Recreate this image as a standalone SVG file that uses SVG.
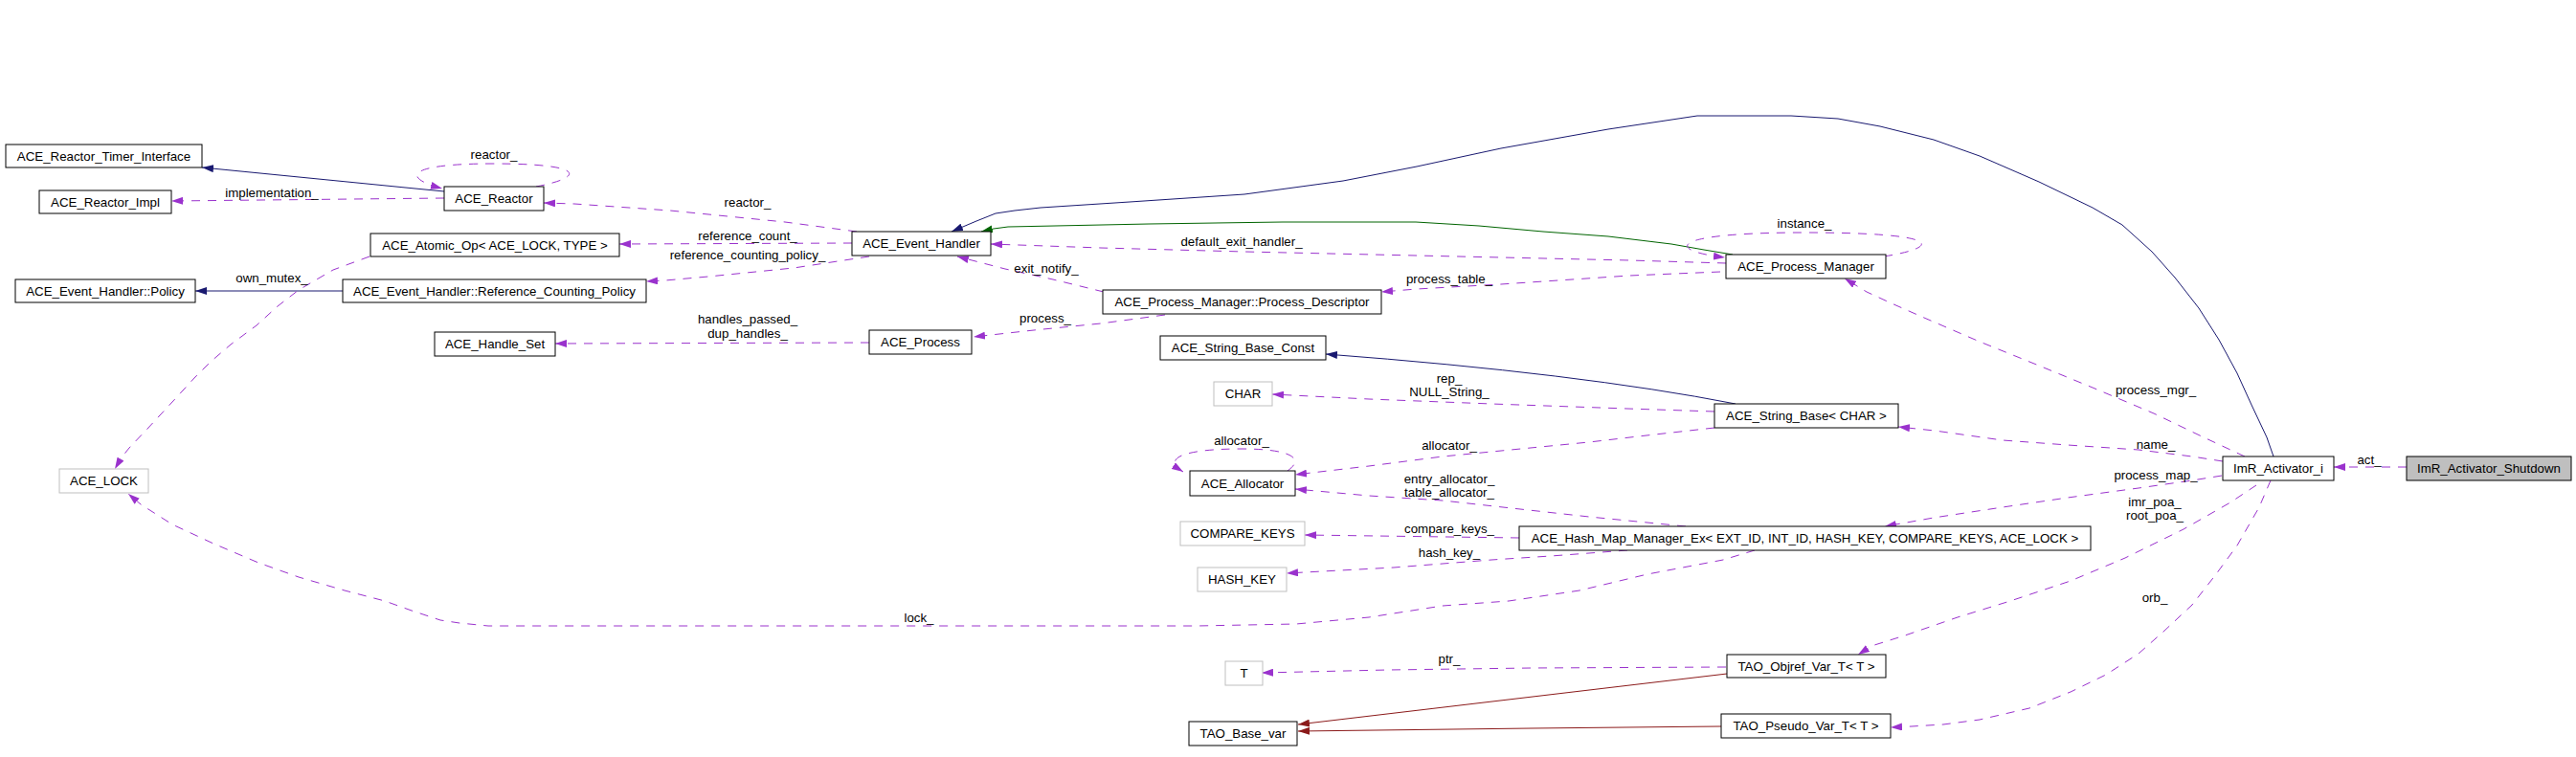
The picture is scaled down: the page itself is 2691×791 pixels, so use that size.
<svg xmlns="http://www.w3.org/2000/svg" width="2691" height="791" viewBox="0 0 2691 791">
<style>
text{font-family:"Liberation Sans",Arial,sans-serif;font-size:13.3px;fill:#000}
.n rect{fill:#fff;stroke:#000;stroke-width:1}
.g rect{fill:#fff;stroke:#bfbfbf;stroke-width:1}
.n text,.g text{text-anchor:middle}
.lbl text{text-anchor:middle}
.e path{fill:none;stroke-width:1;stroke-linejoin:round}
.u{stroke:#9a32cd;stroke-dasharray:9,8;marker-end:url(#ap)}
.i{stroke:#191970;marker-end:url(#an)}
.gr{stroke:#006400;marker-end:url(#ag)}
.r{stroke:#8b1a1a;marker-end:url(#ar)}
</style>
<defs>
<marker id="ap" markerWidth="12" markerHeight="8" refX="12" refY="4" orient="auto" markerUnits="userSpaceOnUse"><path d="M0,0 L12,4 L0,8 z" fill="#9a32cd"/></marker>
<marker id="an" markerWidth="12" markerHeight="8" refX="12" refY="4" orient="auto" markerUnits="userSpaceOnUse"><path d="M0,0 L12,4 L0,8 z" fill="#191970"/></marker>
<marker id="ag" markerWidth="12" markerHeight="8" refX="12" refY="4" orient="auto" markerUnits="userSpaceOnUse"><path d="M0,0 L12,4 L0,8 z" fill="#006400"/></marker>
<marker id="ar" markerWidth="12" markerHeight="8" refX="12" refY="4" orient="auto" markerUnits="userSpaceOnUse"><path d="M0,0 L12,4 L0,8 z" fill="#8b1a1a"/></marker>
</defs>
<rect width="2691" height="791" fill="#fff"/>
<g id="edges" class="e">
<path class="i" d="M2375,477 L2368,457 L2352,423 L2337,390 L2318,355 L2297,322 L2272,290 L2248,263 L2217,235 L2186,217 L2130,190 L2068,163 L2020,146 L1964,132 L1920,124 L1871,121 L1773,121 L1680,135 L1568,155 L1480,174 L1403,189 L1300,203 L1180,211 L1087,217 L1060,220 L1040,223 L1020,231 L994,242"/>
<path class="gr" d="M1810,266 L1780,261 L1746,255 L1680,247 L1612,242 L1545,236 L1479,232 L1340,232 L1200,234 L1053,237 L1038,239 L1025,242"/>
<path class="i" d="M464,200 L211,175"/>
<path class="i" d="M358,304 L204,304"/>
<path class="i" d="M1813,422 Q1650,390 1385,370"/>
<path class="r" d="M1804,704 L1356,757"/>
<path class="r" d="M1798,759 L1600,761 L1356,764"/>
<path class="u" d="M2514,488 L2438,488"/>
<path class="u" d="M2345,477 L2300,456 L2250,432 L2186,405 L2125,380 L2068,357 L2010,332 L1976,317 L1950,305 L1927,291"/>
<path class="u" d="M2322,482 L2290,477 L2234,470 L2160,465 L2092,460 L2021,450 L1983,446"/>
<path class="u" d="M2321,497 L2290,502 L2234,510 L2160,520 L2092,530 L2020,541 L1969,550"/>
<path class="u" d="M2357,507 L2330,525 L2281,553 L2220,583 L2163,607 L2100,628 L2045,645 L1990,664 L1955,675 L1941,684"/>
<path class="u" d="M2372,502 L2360,530 L2337,570 L2315,600 L2290,632 L2260,660 L2234,683 L2200,705 L2163,723 L2120,740 L2068,752 L2030,757 L1997,759 L1975,760"/>
<path class="u" d="M895,242 L820,232 L700,220 L600,213 L568,212"/>
<path class="u" d="M560,195 C612,185 612,171 515,171 C422,171 420,186 462,197"/>
<path class="u" d="M464,207 L179,210"/>
<path class="u" d="M890,254 L647,255"/>
<path class="u" d="M908,268 L829,280 L740,289 L695,293 L675,294"/>
<path class="u" d="M1803,275 L1702,272 L1479,267 L1300,263 L1150,259 L1035,255"/>
<path class="u" d="M1153,305 L1100,292 L1050,281 L1000,268"/>
<path class="u" d="M1797,284 L1702,288 L1568,297 L1480,302 L1443,305"/>
<path class="u" d="M1217,329 L1150,338 L1080,345 L1017,352"/>
<path class="u" d="M908,358 L580,359"/>
<path class="u" d="M386,268 L348,282 L312,303 L290,320 L268,340 L241,360 L220,378 L203,395 L180,420 L154,448 L135,468 L127,478 L120,490"/>
<path class="u" d="M1968,268 C2030,258 2030,243 1885,243 C1740,243 1740,262 1802,269"/>
<path class="u" d="M1791,430 L1700,427 L1558,422 L1430,417 L1329,412"/>
<path class="u" d="M1791,447 L1720,455 L1660,462 L1507,477 L1430,487 L1353,496"/>
<path class="u" d="M1345,492 C1365,478 1345,469 1297,469 C1240,469 1212,478 1236,493"/>
<path class="u" d="M1761,550 L1660,540 L1507,523 L1430,518 L1353,511"/>
<path class="u" d="M1587,562 L1363,559"/>
<path class="u" d="M1700,575 L1620,581 L1558,585 L1456,593 L1344,599"/>
<path class="u" d="M1833,575 L1800,585 L1721,600 L1650,617 L1576,628 L1507,633 L1430,645 L1354,652 L1250,654 L1150,654 L510,654 L480,651 L460,648 L430,638 L402,628 L360,617 L312,603 L270,588 L223,568 L180,548 L147,527 L134,516"/>
<path class="u" d="M1803,697 L1600,698 L1450,700 L1318,703"/>
</g>
<g class="lbl">
<text x="2475" y="485">act_</text>
<text x="2252" y="412">process_mgr_</text>
<text x="2252" y="469">name_</text>
<text x="2252" y="501">process_map_</text>
<text x="2251" y="529">imr_poa_</text>
<text x="2251" y="543">root_poa_</text>
<text x="2251" y="629">orb_</text>
<text x="781" y="216">reactor_</text>
<text x="516" y="166">reactor_</text>
<text x="284" y="206">implementation_</text>
<text x="781" y="251">reference_count_</text>
<text x="781" y="271">reference_counting_policy_</text>
<text x="284" y="295">own_mutex_</text>
<text x="1297" y="257">default_exit_handler_</text>
<text x="1093" y="285">exit_notify_</text>
<text x="1514" y="296">process_table_</text>
<text x="1092" y="337">process_</text>
<text x="781" y="338">handles_passed_</text>
<text x="781" y="353">dup_handles_</text>
<text x="1885" y="238">instance_</text>
<text x="1514" y="400">rep_</text>
<text x="1514" y="414">NULL_String_</text>
<text x="1297" y="465">allocator_</text>
<text x="1514" y="470">allocator_</text>
<text x="1514" y="505">entry_allocator_</text>
<text x="1514" y="519">table_allocator_</text>
<text x="1514" y="557">compare_keys_</text>
<text x="1514" y="582">hash_key_</text>
<text x="960" y="650">lock_</text>
<text x="1514" y="693">ptr_</text>
</g>
<g id="node_shutdown" class="n"><rect x="2514" y="477" width="172" height="25" style="fill:#bfbfbf"/><text x="2600" y="494">ImR_Activator_Shutdown</text></g>
<g id="node_activator" class="n"><rect x="2322" y="477" width="116" height="25"/><text x="2380" y="494">ImR_Activator_i</text></g>
<g id="node_event_handler" class="n"><rect x="890" y="242" width="145" height="25"/><text x="962.5" y="259">ACE_Event_Handler</text></g>
<g id="node_reactor" class="n"><rect x="464" y="195" width="104" height="25"/><text x="516" y="212">ACE_Reactor</text></g>
<g id="node_timer_iface" class="n"><rect x="6" y="151" width="205" height="24"/><text x="108.5" y="168">ACE_Reactor_Timer_Interface</text></g>
<g id="node_reactor_impl" class="n"><rect x="41" y="199" width="138" height="24"/><text x="110" y="216">ACE_Reactor_Impl</text></g>
<g id="node_atomic_op" class="n"><rect x="387" y="244" width="260" height="24"/><text x="517" y="261">ACE_Atomic_Op&lt; ACE_LOCK, TYPE &gt;</text></g>
<g id="node_ace_lock" class="g"><rect x="62" y="490" width="93" height="25"/><text x="108.5" y="507">ACE_LOCK</text></g>
<g id="node_rc_policy" class="n"><rect x="358" y="292" width="317" height="24"/><text x="516.5" y="309">ACE_Event_Handler::Reference_Counting_Policy</text></g>
<g id="node_policy" class="n"><rect x="16" y="292" width="188" height="24"/><text x="110" y="309">ACE_Event_Handler::Policy</text></g>
<g id="node_process_manager" class="n"><rect x="1803" y="266" width="167" height="25"/><text x="1886.5" y="283">ACE_Process_Manager</text></g>
<g id="node_process_descriptor" class="n"><rect x="1152" y="303" width="291" height="25"/><text x="1297.5" y="320">ACE_Process_Manager::Process_Descriptor</text></g>
<g id="node_process" class="n"><rect x="908" y="345" width="107" height="25"/><text x="961.5" y="362">ACE_Process</text></g>
<g id="node_handle_set" class="n"><rect x="454" y="347" width="126" height="25"/><text x="517" y="364">ACE_Handle_Set</text></g>
<g id="node_string_base" class="n"><rect x="1791" y="422" width="192" height="25"/><text x="1887" y="439">ACE_String_Base&lt; CHAR &gt;</text></g>
<g id="node_string_base_const" class="n"><rect x="1212" y="351" width="173" height="25"/><text x="1298.5" y="368">ACE_String_Base_Const</text></g>
<g id="node_char" class="g"><rect x="1268" y="399" width="61" height="25"/><text x="1298.5" y="416">CHAR</text></g>
<g id="node_allocator" class="n"><rect x="1243" y="492" width="110" height="26"/><text x="1298" y="510">ACE_Allocator</text></g>
<g id="node_hash_map" class="n"><rect x="1587" y="550" width="597" height="25"/><text x="1885.5" y="567">ACE_Hash_Map_Manager_Ex&lt; EXT_ID, INT_ID, HASH_KEY, COMPARE_KEYS, ACE_LOCK &gt;</text></g>
<g id="node_compare_keys" class="g"><rect x="1233" y="545" width="130" height="25"/><text x="1298" y="562">COMPARE_KEYS</text></g>
<g id="node_hash_key" class="g"><rect x="1251" y="593" width="93" height="25"/><text x="1297.5" y="610">HASH_KEY</text></g>
<g id="node_objref_var" class="n"><rect x="1804" y="684" width="166" height="24"/><text x="1887" y="701">TAO_Objref_Var_T&lt; T &gt;</text></g>
<g id="node_t" class="g"><rect x="1280" y="691" width="39" height="25"/><text x="1299.5" y="708">T</text></g>
<g id="node_base_var" class="n"><rect x="1242" y="754" width="113" height="25"/><text x="1298.5" y="771">TAO_Base_var</text></g>
<g id="node_pseudo_var" class="n"><rect x="1798" y="746" width="177" height="25"/><text x="1886.5" y="763">TAO_Pseudo_Var_T&lt; T &gt;</text></g>
</svg>
